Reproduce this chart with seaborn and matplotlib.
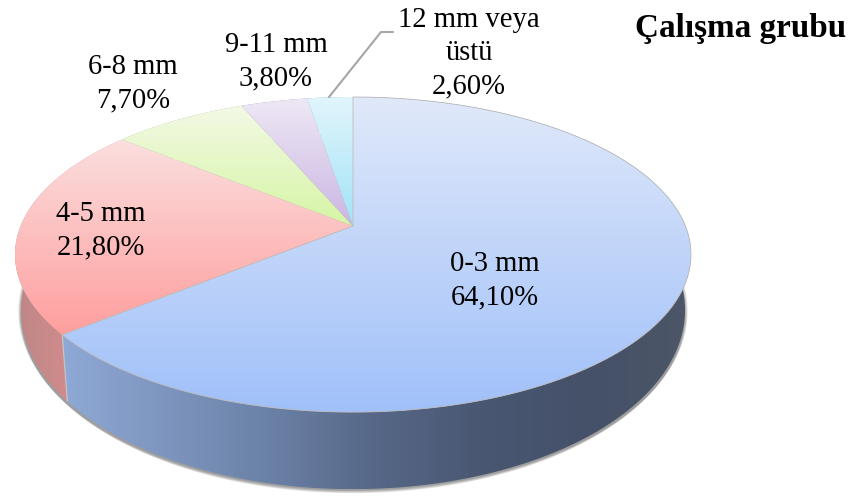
#!/usr/bin/env python3
# 3D looking pie chart of the study group, drawn with seaborn palettes and matplotlib polygons
import numpy as np
import matplotlib
matplotlib.use("Agg")
import matplotlib.pyplot as plt
from matplotlib.patches import Polygon
import seaborn as sns

# data
labels = ["0-3 mm", "4-5 mm", "6-8 mm", "9-11 mm", "12 mm veya\nüstü"]
values = [64.1, 21.8, 7.7, 3.8, 2.6]
title = "Çalışma grubu"

# colours per slice, light to strong
top_colors = [["#e0e9fa", "#a0c0f9"], ["#fbdfdf", "#ff9e9e"], ["#f3f9e6", "#d6f5a4"],
              ["#eee8f5", "#cbb6e3"], ["#e2f5fc", "#a2e3f6"]]
wall_colors = [["#8fa9d6", "#7d95be", "#6a80a5", "#566787", "#495772", "#455169", "#4c5667"],
               ["#bd8686", "#d28c8c", "#e69292"],
               ["#a3b88c", "#a3b88c"], ["#a090b0", "#a090b0"], ["#80b0c0", "#80b0c0"]]

# layout in pixels
label_pos = [(495, 281), (101, 231), (133, 84), (276, 62), (469, 53)]
cx, apex_y, persp = 353, 226, 0.1812
scale_x, scale_y = 332.4, 152.4
top_cy, top_rx, top_ry = 254.5, 338, 157.5
bot_cy, bot_rx, bot_ry = 310, 332, 179

sns.set_theme(style="white")
plt.rcParams["font.family"] = ["Liberation Serif", "DejaVu Serif"]

fig = plt.figure(figsize=(8.56, 5.0), dpi=100)
ax = fig.add_axes([0, 0, 1, 1])


def top_edge(angles):
    # angles are clockwise from 12 o'clock, tilted with a small perspective
    x = np.sin(angles)
    y = np.cos(angles)
    w = 1 + persp * y
    return cx + scale_x * x / w, apex_y - scale_y * y / w


def bottom_edge(angles):
    x, y = top_edge(angles)
    return cx + bot_rx * (x - cx) / top_rx, bot_cy + bot_ry * (y - top_cy) / top_ry


def fill_gradient(xy, colors, horizontal):
    patch = Polygon(xy, closed=True, facecolor="none", edgecolor="none")
    ax.add_patch(patch)
    cmap = sns.blend_palette(colors, n_colors=256, as_cmap=True)
    ramp = np.linspace(0, 1, 256)
    xmin, ymin = xy.min(axis=0)
    xmax, ymax = xy.max(axis=0)
    grad = ramp.reshape(1, -1) if horizontal else ramp.reshape(-1, 1)
    im = ax.imshow(grad, cmap=cmap, aspect="auto", interpolation="bilinear",
                   extent=[xmin, xmax, ymax, ymin], origin="upper" if not horizontal else "lower")
    im.set_clip_path(patch)


edges = np.radians(np.concatenate([[0], np.cumsum(values)]) * 3.6)

# soft shadow under the disc
whole = np.linspace(0, 2 * np.pi, 400)
bx, by = bottom_edge(whole)
for i in range(5):
    ax.fill(cx + (bx - cx) * (1 + i * 0.002), by + 4 - i * 0.7, color="#404040", alpha=0.13, lw=0, zorder=-1)

# side walls first, then the top surface over them
for i in range(len(values) - 1, -1, -1):
    t = np.linspace(edges[i], edges[i + 1], 200)
    tx, ty = top_edge(t)
    bx, by = bottom_edge(t)
    wall = np.column_stack([np.r_[tx, bx[::-1]], np.r_[ty, by[::-1]]])
    fill_gradient(wall, wall_colors[i], True)

for i in range(len(values)):
    t = np.linspace(edges[i], edges[i + 1], 200)
    tx, ty = top_edge(t)
    poly = np.column_stack([np.r_[cx, tx], np.r_[apex_y, ty]])
    fill_gradient(poly, top_colors[i], False)

# thin grey lines around the big slice
t = np.linspace(edges[0], edges[1], 300)
tx, ty = top_edge(t)
ax.plot(np.r_[cx, tx, cx], np.r_[apex_y, ty, apex_y], color="#bdbdbd", lw=0.6)
ex, ey = top_edge(edges[1])
fx, fy = bottom_edge(edges[1])
ax.plot([ex, fx], [ey, fy], color="#c8c8c8", lw=0.8)

# leader line for the smallest slice
ax.plot([329, 381, 393], [97, 32, 32], color="#a6a6a6", lw=1.5)

for name, val, pos in zip(labels, values, label_pos):
    txt = name + "\n" + f"{val:.2f}".replace(".", ",") + "%"
    ax.text(pos[0], pos[1], txt, ha="center", va="center", fontsize=20.6, color="black", linespacing=1.36)

ax.text(741, 28, title, ha="center", va="center", fontsize=23.9, fontweight="bold", color="black")

ax.set_xlim(0, 856)
ax.set_ylim(500, 0)
ax.axis("off")
plt.savefig("out.png", dpi=100, facecolor="white")
